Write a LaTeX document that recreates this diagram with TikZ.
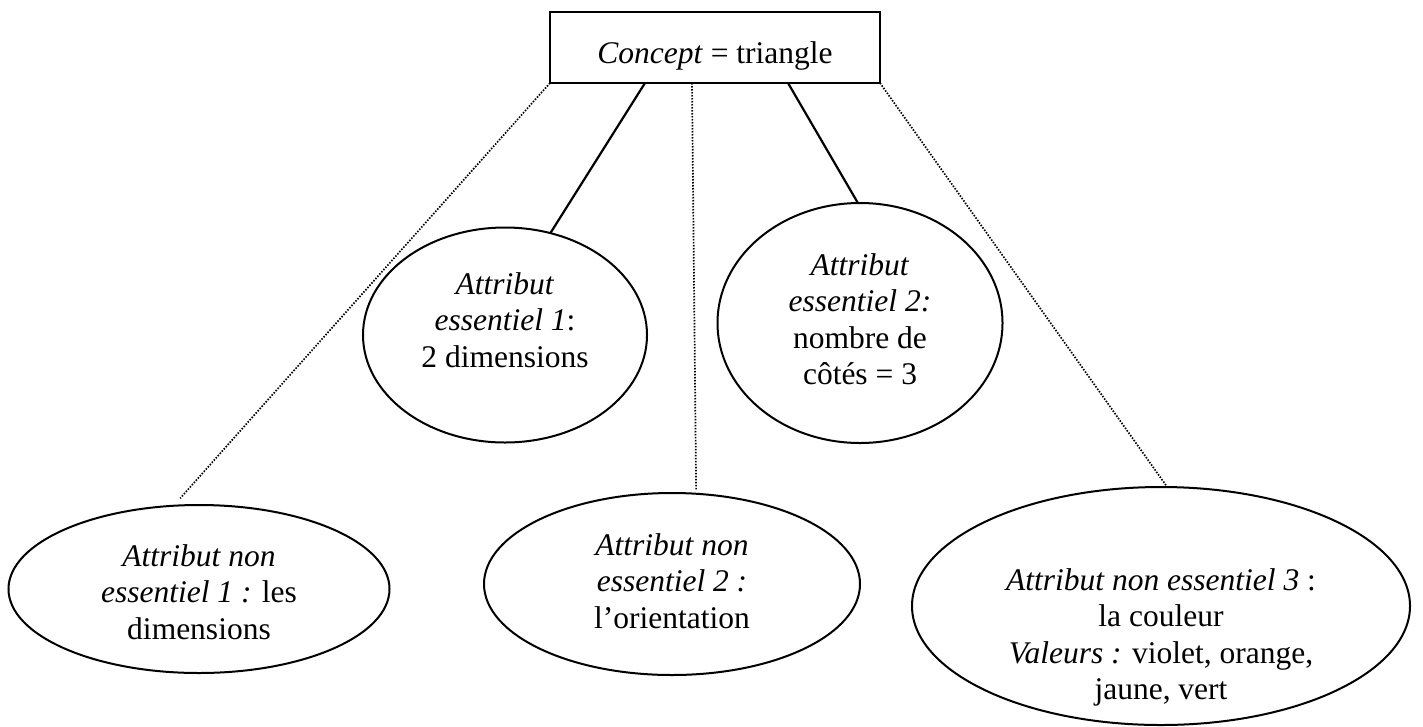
\documentclass[tikz,border=0pt]{standalone}
\usepackage{fontspec}
\setmainfont{Liberation Serif}
\usetikzlibrary{shapes.geometric}
\newcommand{\mlines}[1]{\begin{tabular}[t]{@{}c@{}}#1\end{tabular}}
\begin{document}
\begin{tikzpicture}[x=1pt,y=-1pt,
  every node/.style={font=\fontsize{31.5pt}{36.5pt}\selectfont, inner sep=0pt, outer sep=0pt},
  oval/.style={draw, ellipse, line width=2pt, text height=25pt},
  titlebox/.style={draw, rectangle, line width=2.6pt, minimum width=330pt, minimum height=71pt, text height=32pt, text depth=1pt},
  link/.style={line width=2.2pt},
  dotlink/.style={line width=1.7pt, dash pattern=on 1.5pt off 1.5pt}]
\fill[white] (0,0) rectangle (1423,726);
\useasboundingbox (0,0) rectangle (1423,726);

\node[titlebox] (concept) at (715,47.5) {\textit{Concept} = triangle};

\node[oval, minimum width=284pt, minimum height=215pt, text depth=107pt] (e1) at (505,335)
  {\mlines{\textit{Attribut}\\ \textit{essentiel 1}:\\ 2 dimensions}};
\node[oval, minimum width=285pt, minimum height=240pt, text depth=121pt] (e2) at (860,323)
  {\mlines{\textit{Attribut}\\ \textit{essentiel 2:}\\ nombre de\\ côtés = 3}};
\node[oval, minimum width=381pt, minimum height=168pt, text depth=71pt] (n1) at (199,589)
  {\mlines{\textit{Attribut non}\\ \textit{essentiel 1 :} les\\ dimensions}};
\node[oval, minimum width=376pt, minimum height=182pt, text depth=83pt] (n2) at (672,584)
  {\mlines{\textit{Attribut non}\\ \textit{essentiel 2 :}\\ l’orientation}};
\node[oval, minimum width=498pt, minimum height=238pt, text depth=57pt] (n3) at (1161,606)
  {\mlines{\textit{Attribut non essentiel 3} :\\ la couleur\\ \textit{Valeurs :} violet, orange,\\ jaune, vert}};

\draw[link] ([xshift=-70pt]concept.south) -- (e1.66);
\draw[link] ([xshift=73pt]concept.south) -- (e2.91);
\draw[dotlink, shorten >=10pt] (concept.south west) -- (n1.107);
\draw[dotlink, shorten >=3pt] ([xshift=-23pt]concept.south) -- (n2.75);
\draw[dotlink] (concept.south east) -- (n3.87);
\end{tikzpicture}
\end{document}
